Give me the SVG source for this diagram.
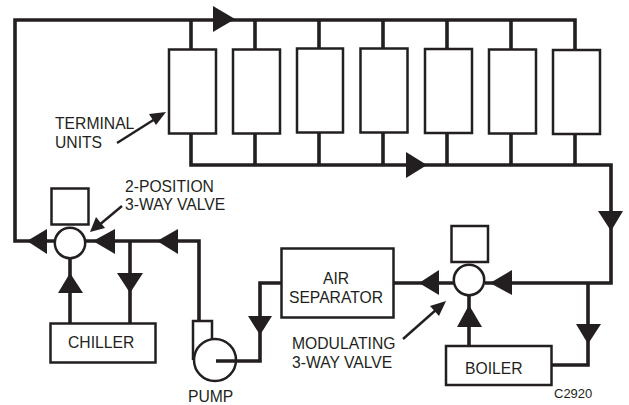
<svg xmlns="http://www.w3.org/2000/svg" width="629" height="405" viewBox="0 0 629 405">
<style>
.p{fill:none;stroke:#231f20;stroke-width:3.6;stroke-linejoin:miter}
.s{fill:#fff;stroke:#231f20;stroke-width:2.5}
.a{fill:#231f20;stroke:none}
.l{fill:none;stroke:#231f20;stroke-width:2.4}
text{font-family:"Liberation Sans",Arial,sans-serif;font-size:15.7px;fill:#231f20}
</style>
<rect width="629" height="405" fill="#fff"/>
<g id="connectors">
<path class="p" d="M70 241H15V20H575V50"/>
<path class="p" d="M191 20V50M255 20V50M319 20V48M383 20V48M447 20V49M511 20V50"/>
<path class="p" d="M191 133V165H611V283H485"/>
<path class="p" d="M255 133V165M319 132V165M383 132V165M447 133V165M511 133V165M575 134V165"/>
<path class="p" d="M85 241H199V321"/>
<path class="p" d="M130 241V323"/>
<path class="p" d="M70 258V323"/>
<path class="p" d="M393 283H455"/>
<path class="p" d="M469 295V346"/>
<path class="p" d="M588 283V365H552"/>
<polygon class="a" points="235,19 213,6 213,32"/>
<polygon class="a" points="427,165 406,152 406,178"/>
<polygon class="a" points="611,231 598,211 623,211"/>
<polygon class="a" points="588,344 576,324 601,324"/>
<polygon class="a" points="490,283 512,270 512,295"/>
<polygon class="a" points="419,283 439,270 439,295"/>
<polygon class="a" points="469,305 457,327 482,327"/>
<polygon class="a" points="260,335 248,316 272,316"/>
<polygon class="a" points="157,241 178,229 178,254"/>
<polygon class="a" points="93,241 115,229 115,254"/>
<polygon class="a" points="27,241 47,229 47,254"/>
<polygon class="a" points="70,273 58,293 83,293"/>
<polygon class="a" points="130,293 117,273 143,273"/>
</g>
<g id="terminal-unit-1"><rect class="s" x="169" y="49.500" width="47" height="84"/></g>
<g id="terminal-unit-2"><rect class="s" x="233" y="49.500" width="47" height="84"/></g>
<g id="terminal-unit-3"><rect class="s" x="297" y="48.500" width="46" height="84"/></g>
<g id="terminal-unit-4"><rect class="s" x="360.500" y="48.500" width="47" height="84"/></g>
<g id="terminal-unit-5"><rect class="s" x="425" y="49" width="47" height="84"/></g>
<g id="terminal-unit-6"><rect class="s" x="489" y="49.500" width="47" height="84"/></g>
<g id="terminal-unit-7"><rect class="s" x="553" y="50" width="47" height="84"/></g>
<g id="terminal-label">
<text x="55" y="129">TERMINAL</text>
<text x="55" y="148">UNITS</text>
<path class="l" d="M117 143L155 119"/>
<polygon class="a" points="166,112 149,114 156,125"/>
</g>
<g id="valve-2-position">
<rect class="s" x="51.500" y="188.500" width="37" height="36"/>
<circle class="s" cx="70" cy="243" r="15.200" stroke-width="3"/>
<text x="125" y="192">2-POSITION</text>
<text x="125" y="210">3-WAY VALVE</text>
<path class="l" d="M122 206L98 226"/>
<polygon class="a" points="90,232 96,217 105,228"/>
</g>
<g id="chiller">
<rect class="s" x="50.500" y="323.500" width="105" height="39"/>
<text x="68" y="348">CHILLER</text>
</g>
<g id="pump">
<path class="s" d="M193 360V321H212V340"/>
<circle class="s" cx="215" cy="360" r="21" stroke-width="3"/>
<path class="p" d="M216 361H260V283H281"/>
<text x="188" y="402">PUMP</text>
</g>
<g id="air-separator">
<rect class="s" x="281.500" y="248.500" width="112" height="69"/>
<text x="336" y="284" text-anchor="middle">AIR</text>
<text x="336" y="303" text-anchor="middle">SEPARATOR</text>
</g>
<g id="valve-modulating">
<rect class="s" x="451.500" y="226" width="36.500" height="36"/>
<circle class="s" cx="469" cy="280" r="15.200" stroke-width="3"/>
<text x="292" y="349">MODULATING</text>
<text x="292" y="368">3-WAY VALVE</text>
<path class="l" d="M403 339L437 309"/>
<polygon class="a" points="446,301 430,306 439,316"/>
</g>
<g id="boiler">
<rect class="s" x="446" y="346" width="105.500" height="39"/>
<text x="465" y="374">BOILER</text>
</g>
<text x="554" y="398" style="font-size:13px">C2920</text>
</svg>
